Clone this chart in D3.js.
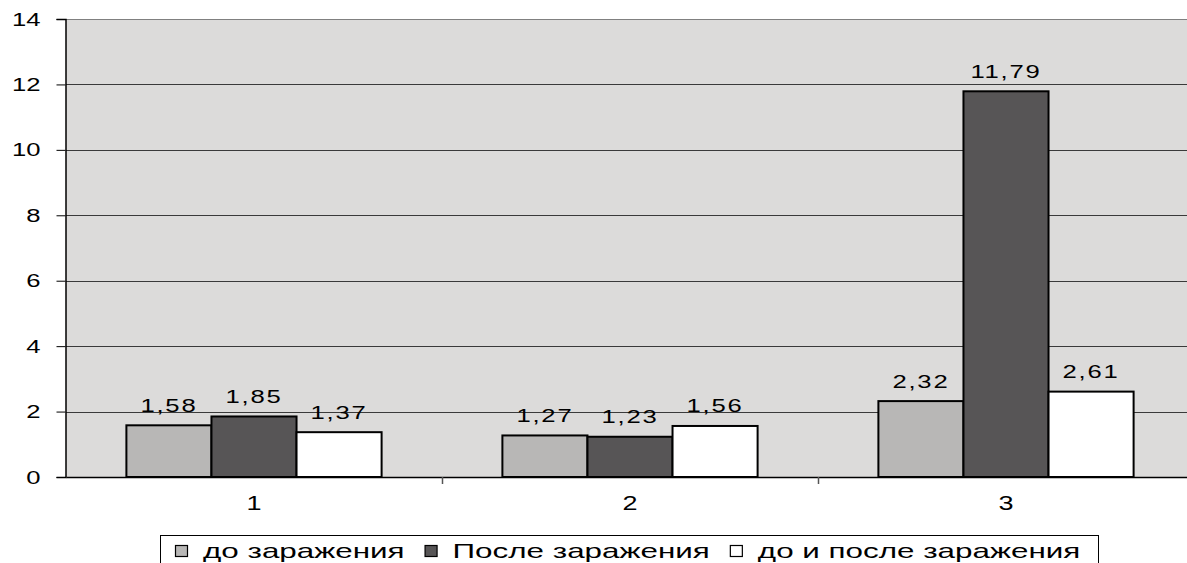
<!DOCTYPE html>
<html>
<head>
<meta charset="utf-8">
<script src="https://cdn.jsdelivr.net/npm/d3@7/dist/d3.min.js"></script>
<style>
  html, body { margin: 0; padding: 0; background: #fff; }
  svg { display: block; font-family: "Liberation Sans", Arial, sans-serif; }
</style>
</head>
<body>
<svg id="chart" width="1187" height="563"></svg>
<script>
// Categories and series
const categories = ["1", "2", "3"];
const seriesNames = ["до заражения", "После заражения", "до и после заражения"];
const seriesColors = ["#b8b7b6", "#575556", "#ffffff"];
const beforeInfection = [1.58, 1.27, 2.32];
const afterInfection = [1.85, 1.23, 11.79];
const beforeAndAfter = [1.37, 1.56, 2.61];
const yTicks = [0, 2, 4, 6, 8, 10, 12, 14];

const seriesValues = [beforeInfection, afterInfection, beforeAndAfter];

const svg = d3.select("#chart");
const plotLeft = 66, plotTop = 19, plotBottom = 477;
const bandW = 376;
const plotRight = plotLeft + bandW * categories.length;
const stretch = 1.35;   // wide glyph look of the labels
const fontFam = "'Liberation Sans', Arial, sans-serif";

const x = d3.scaleBand().domain(categories).range([plotLeft, plotRight]).paddingInner(0).paddingOuter(0);
const y = d3.scaleLinear().domain([0, 14]).range([plotBottom, plotTop]);
const inner = d3.scaleBand().domain(d3.range(3)).range([0, bandW]).paddingInner(0).paddingOuter(0.71);

// Plot area background
svg.append("rect")
  .attr("x", plotLeft).attr("y", plotTop)
  .attr("width", plotRight - plotLeft).attr("height", plotBottom - plotTop)
  .attr("fill", "#dcdbda");

// Horizontal gridlines
svg.append("g").selectAll("line")
  .data(yTicks.filter(d => d > 0))
  .join("line")
  .attr("x1", plotLeft).attr("x2", plotRight)
  .attr("y1", d => Math.round(y(d)) + 0.5).attr("y2", d => Math.round(y(d)) + 0.5)
  .attr("stroke", d => d === 14 ? "#808080" : "#3a3a3a")
  .attr("stroke-width", 1.2);

// Y axis
const yAxis = d3.axisLeft(y).tickValues(yTicks).tickSize(9).tickPadding(0).tickFormat(d3.format("d"));
const gy = svg.append("g").attr("transform", `translate(${plotLeft - 0.5},0)`).call(yAxis);
gy.select(".domain").attr("stroke", "#000").attr("stroke-width", 1.5);
gy.selectAll(".tick line").attr("stroke", "#000");
gy.selectAll(".tick text")
  .attr("x", 0)
  .attr("transform", `translate(-25,0) scale(${stretch},1)`)
  .attr("font-size", 19).attr("fill", "#000").attr("font-family", fontFam);

// Bars
const groups = svg.append("g").selectAll("g")
  .data(seriesValues)
  .join("g")
  .attr("fill", (d, i) => seriesColors[i]);

groups.each(function(vals, si) {
  d3.select(this).selectAll("rect")
    .data(vals)
    .join("rect")
    .attr("x", (d, ci) => x(categories[ci]) + inner(si))
    .attr("y", d => y(d))
    .attr("width", inner.bandwidth())
    .attr("height", d => y(0) - y(d))
    .attr("stroke", "#000")
    .attr("stroke-width", 2);
});

// Data labels
seriesValues.forEach((vals, si) => {
  svg.append("g").selectAll("text")
    .data(vals)
    .join("text")
    .attr("transform", (d, ci) =>
      `translate(${x(categories[ci]) + inner(si) + inner.bandwidth() / 2},${y(d) - 13.5}) scale(${stretch},1)`)
    .attr("text-anchor", "middle")
    .attr("font-size", 19)
    .attr("letter-spacing", 1.3)
    .attr("fill", "#000")
    .text(d => d3.format(".2f")(d).replace(".", ","));
});

// X axis
const xAxis = d3.axisBottom(x).tickSize(0).tickPadding(19);
const gx = svg.append("g").attr("transform", `translate(0,${plotBottom})`).call(xAxis);
gx.select(".domain").attr("stroke", "#000").attr("stroke-width", 1.5);
gx.selectAll(".tick text")
  .attr("transform", `scale(${stretch},1)`)
  .attr("x", 0)
  .attr("font-size", 20).attr("fill", "#000").attr("font-family", fontFam);

// Category separator ticks
svg.append("g").selectAll("line")
  .data(categories.slice(1))
  .join("line")
  .attr("x1", d => x(d) + 0.5).attr("x2", d => x(d) + 0.5)
  .attr("y1", plotBottom).attr("y2", plotBottom + 7)
  .attr("stroke", "#555").attr("stroke-width", 1.5);

// Legend
const legend = svg.append("g");
legend.append("rect")
  .attr("x", 160.5).attr("y", 535.5)
  .attr("width", 938).attr("height", 40)
  .attr("fill", "#fff").attr("stroke", "#000").attr("stroke-width", 1);

const legendStretch = 1.57;
let cursor = 175;
seriesNames.forEach((name, i) => {
  legend.append("rect")
    .attr("x", cursor + 0.5).attr("y", 545.5).attr("width", 12).attr("height", 11)
    .attr("fill", seriesColors[i]).attr("stroke", "#000").attr("stroke-width", 1.2);
  const t = legend.append("text")
    .attr("transform", `translate(${cursor + 28},558) scale(${legendStretch},1)`)
    .attr("font-size", 20)
    .attr("fill", "#000")
    .text(name);
  cursor += 28 + t.node().getComputedTextLength() * legendStretch + 20;
});
</script>
</body>
</html>
